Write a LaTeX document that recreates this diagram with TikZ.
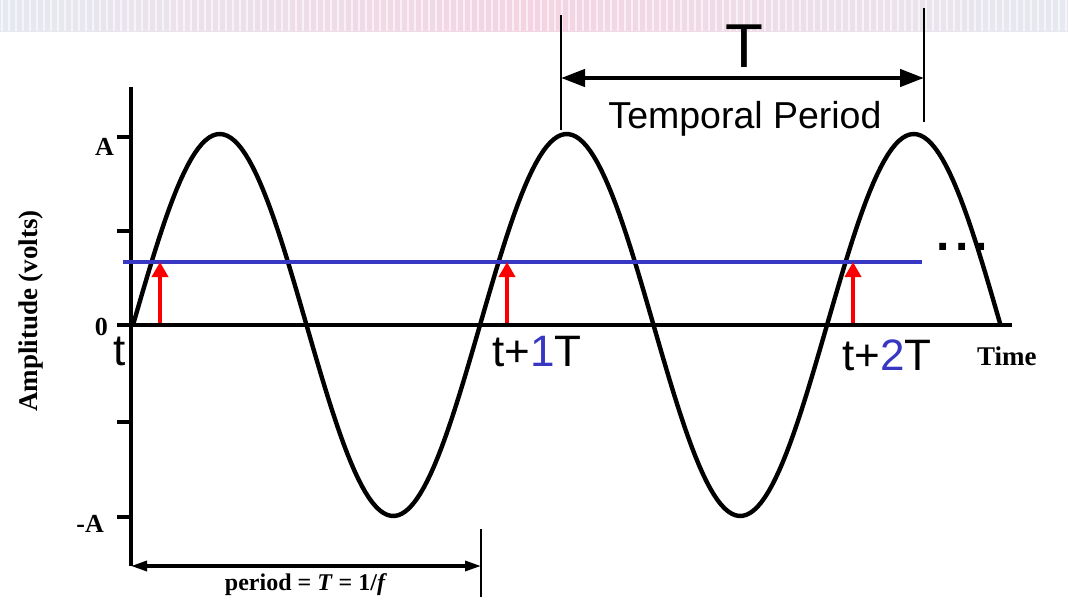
\documentclass[tikz,border=0pt]{standalone}
\usepackage{fontspec}
\setmainfont{Liberation Serif}
\setsansfont{Liberation Sans}
\usetikzlibrary{arrows.meta, positioning, calc}

\definecolor{levelblue}{RGB}{55,55,195}
\definecolor{markred}{RGB}{250,0,0}
\definecolor{bandpink}{RGB}{244,212,226}
\definecolor{bandgrey}{RGB}{230,233,240}

\begin{document}
\begin{tikzpicture}[x=1pt, y=-1pt, >=Stealth,
    axis/.style={line width=3.8pt},
    wave/.style={line width=4.4pt, line join=round},
    dimline/.style={line width=1.4pt},
    ticklab/.style={font=\fontsize{26}{28}\selectfont\bfseries, inner sep=0pt},
    tlab/.style={font=\sffamily\fontsize{44}{48}\selectfont, inner sep=0pt, anchor=base west},
    uparrow/.style={markred, line width=3.8pt, -{Triangle[length=15pt, width=16pt]}}]
  \useasboundingbox (0,0) rectangle (1068,597);
  % slide header band
  \shade[left color=bandgrey, right color=bandgrey, middle color=bandpink] (0,0) rectangle (1068,31);
  \foreach \sx in {2,9,...,1066}{
    \draw[white, line width=1.5pt, opacity=0.6] (\sx,0) -- (\sx,31);
  }
  % axes: x from 131 to 1012, zero at y=325, A = 191pt
  \coordinate (orig) at (131,325);
  \coordinate (ytop) at (131,87);
  \coordinate (ybot) at (131,566);
  \coordinate (xend) at (1012,325);
  \draw[axis] (ytop) -- (ybot);
  \draw[axis] (117,325) -- (xend);
  \foreach \ty in {137,231,422,517}{
    \draw[axis] (117,\ty) -- (131,\ty);
  }
  \node[ticklab, anchor=east] (labA) at (114,147) {A};
  \node[ticklab, anchor=east] (lab0) at (108,327) {0};
  \node[ticklab, anchor=east] (labmA) at (104,524) {-A};
  \node[rotate=90, font=\fontsize{27}{29}\selectfont\bfseries] (ylab) at (31,311) {Amplitude (volts)};
  \node[font=\fontsize{27}{29}\selectfont\bfseries, anchor=base west, inner sep=0pt] (xlab) at (977,365) {Time};
  % more periods
  \node[font=\sffamily\bfseries\fontsize{48}{50}\selectfont, anchor=base, inner sep=0pt] (more) at (962,250) {.\hspace{6pt}.\hspace{6pt}.};
  % sine wave, period 347pt
  \draw[wave] plot[domain=0:867.5, samples=240] ({133+\x}, {325-191*sin(\x/347*360)});
  % level line and equal-phase points
  \coordinate (lvl-l) at (123,262);
  \coordinate (lvl-r) at (922,262);
  \draw[levelblue, line width=3.3pt] (lvl-l) -- (lvl-r);
  \foreach \ax [count=\i] in {160,507,853}{
    \coordinate (foot\i) at (\ax,323);
    \coordinate (tip\i) at (\ax,262);
    \draw[uparrow] (foot\i) -- (tip\i);
  }
  \node[tlab] (t0) at (113,365) {t};
  \node[tlab] (t1) at (492,366) {t+\textcolor{levelblue}{1}T};
  \node[tlab] (t2) at (842,370) {t+\textcolor{levelblue}{2}T};
  % temporal period on top
  \coordinate (pl-top) at (561,15);
  \coordinate (pl-bot) at (561,130);
  \coordinate (pr-top) at (924,8);
  \coordinate (pr-bot) at (924,122);
  \draw[dimline] (pl-top) -- (pl-bot);
  \draw[dimline] (pr-top) -- (pr-bot);
  \coordinate (pl) at (561,78);
  \coordinate (pr) at (924,78);
  \draw[line width=4.4pt, {Triangle[length=24pt, width=17pt]}-{Triangle[length=24pt, width=17pt]}] (pl) -- (pr);
  \node[font=\sffamily\fontsize{62}{64}\selectfont, anchor=base, inner sep=0pt] (bigT) at (744,67) {T};
  \node[font=\sffamily\fontsize{37.5}{40}\selectfont, anchor=base, inner sep=0pt] (tempo) at (745,128) {Temporal Period};
  % period at the bottom
  \coordinate (bend) at (481,566);
  \coordinate (bl-top) at (481,529);
  \coordinate (bl-bot) at (481,597);
  \draw[dimline] (bl-top) -- (bl-bot);
  \draw[line width=3.2pt, {Triangle[length=16pt, width=10pt]}-{Triangle[length=16pt, width=10pt]}] (ybot) -- (bend);
  \node[font=\fontsize{24}{26}\selectfont\bfseries, anchor=base, inner sep=0pt] (plab) at (306,590) {period = \textit{T} = 1/\textit{f}};
\end{tikzpicture}
\end{document}
